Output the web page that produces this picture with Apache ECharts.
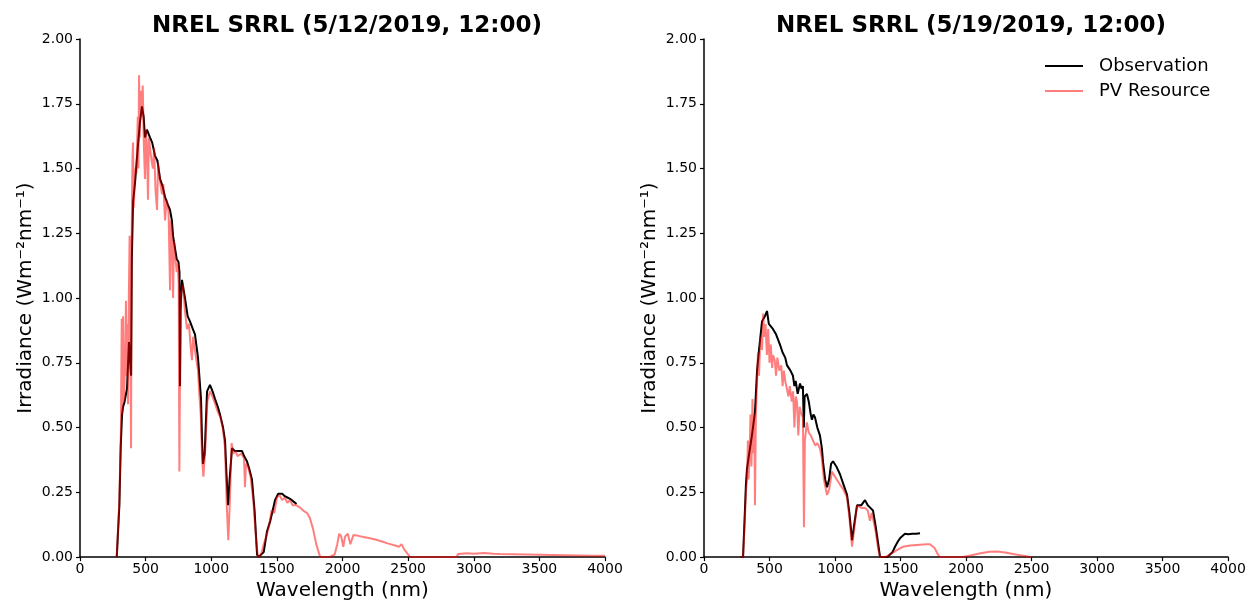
<!DOCTYPE html>
<html>
<head>
<meta charset="utf-8">
<script src="https://cdn.jsdelivr.net/npm/echarts@6/dist/echarts.min.js"></script>
<style>html,body{margin:0;padding:0;background:#fff}#c{width:1255px;height:606px}</style>
</head>
<body>
<div id="c"></div>
<script>
// ---- Data (wavelength in nm, irradiance in W m^-2 nm^-1) ----
const titles = ['NREL SRRL (5/12/2019, 12:00)', 'NREL SRRL (5/19/2019, 12:00)'];
const seriesNames = ['Observation', 'PV Resource'];
const xTicks = [0, 500, 1000, 1500, 2000, 2500, 3000, 3500, 4000];
const yTicks = [0, 0.25, 0.5, 0.75, 1.0, 1.25, 1.5, 1.75, 2.0];

// 5/12/2019 Observation
const obsWl12 = [280,290,300,310,320,328,340,358,373,389,395,404,420,440,457,472,485,495,510,533,550,571,590,610,630,648,670,686,700,709,720,737,750,758,762,766,777,800,820,838,860,876,899,912,922,930,937,950,968,990,1010,1029,1050,1067,1090,1105,1115,1128,1140,1158,1180,1200,1234,1250,1272,1290,1310,1330,1349,1360,1400,1425,1450,1486,1510,1524,1540,1560,1580,1600,1625,1650];
const obsVal12 = [0,0,0.2,0.42,0.55,0.58,0.6,0.65,0.83,0.7,1.15,1.37,1.45,1.58,1.68,1.74,1.7,1.62,1.65,1.62,1.6,1.55,1.53,1.46,1.43,1.39,1.36,1.34,1.3,1.24,1.24,1.15,1.14,1.1,0.66,0.95,1.07,1.0,0.93,0.91,0.88,0.86,0.77,0.68,0.61,0.45,0.36,0.4,0.64,0.665,0.64,0.61,0.58,0.55,0.5,0.45,0.33,0.2,0.3,0.42,0.41,0.41,0.41,0.39,0.37,0.34,0.3,0.18,0.01,0,0.02,0.1,0.14,0.22,0.245,0.25,0.245,0.235,0.23,0.225,0.215,0.205];

// 5/12/2019 PV Resource
const pvWl12 = [280,300,312,318,322,328,334,344,350,356,362,366,372,378,384,389,394,400,404,410,420,430,440,445,450,455,462,470,478,486,495,502,510,518,525,540,555,565,575,587,595,610,625,635,648,660,675,686,692,700,709,716,728,737,745,752,757,762,770,785,800,815,830,845,853,862,875,890,899,910,920,930,940,955,970,990,1010,1030,1050,1070,1090,1105,1118,1130,1142,1155,1170,1185,1200,1230,1250,1257,1265,1280,1300,1320,1340,1355,1380,1400,1420,1440,1460,1480,1500,1520,1540,1560,1580,1600,1620,1650,1680,1700,1730,1752,1775,1800,1830,1900,1940,1960,1975,1990,2006,2020,2040,2060,2083,2120,2160,2200,2250,2300,2350,2400,2430,2450,2470,2500,2514,2870,2880,2950,3000,3080,3150,3200,3300,3400,3500,3600,3700,3800,3900,4000];
const pvVal12 = [0,0.22,0.5,0.92,0.55,0.93,0.6,0.75,0.99,0.7,0.9,0.59,1.0,1.24,0.85,0.42,1.25,1.55,1.6,1.35,1.5,1.48,1.7,1.5,1.86,1.62,1.8,1.7,1.82,1.6,1.46,1.65,1.58,1.38,1.62,1.55,1.5,1.58,1.42,1.34,1.52,1.45,1.4,1.44,1.3,1.38,1.33,1.03,1.3,1.25,1.0,1.22,1.15,1.1,1.13,1.05,0.33,0.7,1.02,1.05,0.95,0.88,0.9,0.8,0.76,0.85,0.8,0.75,0.72,0.62,0.55,0.38,0.31,0.42,0.6,0.64,0.62,0.59,0.56,0.54,0.49,0.42,0.2,0.065,0.22,0.44,0.4,0.41,0.39,0.4,0.38,0.27,0.36,0.35,0.31,0.22,0.08,0,0.01,0.05,0.08,0.12,0.18,0.17,0.23,0.24,0.22,0.23,0.21,0.22,0.2,0.2,0.19,0.18,0.17,0.15,0.11,0.05,0,0,0.01,0.05,0.09,0.08,0.04,0.08,0.09,0.05,0.085,0.082,0.078,0.074,0.068,0.06,0.052,0.045,0.04,0.05,0.03,0.01,0,0,0.012,0.015,0.013,0.016,0.013,0.012,0.011,0.01,0.009,0.008,0.007,0.006,0.005,0.005];

// 5/19/2019 Observation
const obsWl19 = [280,298,310,320,328,345,366,389,405,420,443,465,481,495,510,527,550,580,600,620,634,660,679,690,700,715,733,745,755,762,768,786,800,815,824,835,847,865,885,900,908,925,939,955,970,985,1010,1038,1065,1092,1110,1130,1145,1168,1200,1229,1250,1270,1290,1310,1330,1344,1400,1420,1440,1458,1480,1500,1534,1560,1590,1620,1649];
const obsVal19 = [0,0,0.15,0.28,0.34,0.4,0.47,0.56,0.72,0.8,0.91,0.93,0.95,0.9,0.9,0.88,0.86,0.82,0.79,0.77,0.74,0.72,0.7,0.66,0.68,0.63,0.67,0.65,0.66,0.5,0.62,0.63,0.6,0.55,0.53,0.55,0.54,0.5,0.47,0.42,0.37,0.3,0.27,0.3,0.36,0.37,0.35,0.32,0.28,0.24,0.17,0.065,0.12,0.2,0.2,0.22,0.2,0.19,0.18,0.12,0.05,0,0,0.01,0.02,0.04,0.06,0.075,0.09,0.088,0.09,0.09,0.092];

// 5/19/2019 PV Resource
const pvWl19 = [280,298,310,320,328,335,340,348,355,362,370,378,384,389,396,405,412,420,430,443,451,460,470,480,490,500,510,520,527,540,550,560,575,590,600,610,620,634,645,655,670,680,690,700,710,720,730,745,755,763,770,785,800,815,832,850,865,885,900,915,939,955,977,1000,1038,1065,1092,1110,1130,1145,1168,1200,1229,1250,1267,1280,1290,1310,1330,1344,1382,1420,1450,1481,1520,1573,1650,1700,1725,1760,1786,1800,1980,2050,2120,2180,2237,2300,2380,2450,2489,2500];
const pvVal19 = [0,0,0.12,0.25,0.3,0.45,0.3,0.4,0.55,0.35,0.61,0.4,0.55,0.2,0.55,0.68,0.79,0.7,0.85,0.8,0.94,0.85,0.9,0.78,0.88,0.75,0.82,0.73,0.78,0.76,0.7,0.77,0.72,0.74,0.66,0.72,0.68,0.68,0.62,0.66,0.6,0.64,0.5,0.62,0.6,0.47,0.58,0.55,0.54,0.115,0.45,0.52,0.48,0.47,0.45,0.43,0.44,0.42,0.38,0.3,0.24,0.26,0.33,0.31,0.28,0.26,0.23,0.15,0.04,0.1,0.2,0.19,0.19,0.18,0.14,0.17,0.15,0.1,0.03,0,0,0.01,0.02,0.03,0.04,0.045,0.048,0.05,0.05,0.035,0.01,0,0,0.008,0.016,0.021,0.022,0.018,0.01,0.004,0,0];

// ---- Chart ----
const zip = (xs, ys) => xs.map((x, i) => [x, ys[i]]);
const FONT = 'DejaVu Sans';
const grids = [
  {left: 80, right: 650, top: 39, bottom: 46},
  {left: 704, right: 27, top: 39, bottom: 46}
];
function xAxis(i) {
  return {
    type: 'value', gridIndex: i, min: xTicks[0], max: xTicks[xTicks.length-1], interval: xTicks[1]-xTicks[0],
    name: 'Wavelength (nm)', nameLocation: 'middle', nameGap: 21,
    nameTextStyle: {fontFamily: FONT, fontSize: 20, color: '#000'},
    axisLine: {show: true, onZero: false, lineStyle: {color: '#000', width: 1.5}},
    axisTick: {show: true, inside: false, length: 4, lineStyle: {color: '#000', width: 1.2}},
    axisLabel: {fontFamily: FONT, fontSize: 14, color: '#000', margin: 5, formatter: v => String(v), showMinLabel: true, showMaxLabel: true},
    splitLine: {show: false}
  };
}
function yAxis(i) {
  return {
    type: 'value', gridIndex: i, min: yTicks[0], max: yTicks[yTicks.length-1], interval: yTicks[1]-yTicks[0],
    name: 'Irradiance (Wm\u207B\u00B2nm\u207B\u00B9)', nameLocation: 'middle', nameGap: 44,
    nameTextStyle: {fontFamily: FONT, fontSize: 20, color: '#000'},
    axisLine: {show: true, lineStyle: {color: '#000', width: 1.5}},
    axisTick: {show: true, inside: false, length: 4, lineStyle: {color: '#000', width: 1.2}},
    axisLabel: {fontFamily: FONT, fontSize: 14, color: '#000', margin: 7, formatter: v => v.toFixed(2), showMinLabel: true, showMaxLabel: true},
    splitLine: {show: false}
  };
}
function line(name, data, idx, color) {
  return {
    name: name, type: 'line', xAxisIndex: idx, yAxisIndex: idx, data: data,
    showSymbol: false, symbol: 'none', sampling: null, smooth: false,
    lineStyle: {color: color, width: 2}, itemStyle: {color: color},
    emphasis: {disabled: true}
  };
}
const BLACK = '#000000', RED = 'rgba(255,0,0,0.5)';
const chart = echarts.init(document.getElementById('c'), null, {renderer: 'canvas'});
chart.setOption({
  animation: false,
  backgroundColor: '#fff',
  title: [
    {text: titles[0], left: 342, top: 10, textAlign: 'center', textStyle: {fontFamily: FONT, fontSize: 23, fontWeight: 'bold', color: '#000'}},
    {text: titles[1], left: 966, top: 10, textAlign: 'center', textStyle: {fontFamily: FONT, fontSize: 23, fontWeight: 'bold', color: '#000'}}
  ],
  legend: {
    orient: 'vertical', left: 1040, top: 52,
    itemWidth: 38, itemHeight: 2, itemGap: 7,
    data: [
      {name: seriesNames[0], icon: 'rect', itemStyle: {color: BLACK}},
      {name: seriesNames[1], icon: 'rect', itemStyle: {color: RED}}
    ],
    textStyle: {fontFamily: FONT, fontSize: 18, color: '#000', padding: [0, 0, 0, 11]}
  },
  grid: grids,
  xAxis: [xAxis(0), xAxis(1)],
  yAxis: [yAxis(0), yAxis(1)],
  series: [
    line(seriesNames[0], zip(obsWl12, obsVal12), 0, BLACK),
    line(seriesNames[1], zip(pvWl12, pvVal12), 0, RED),
    line(seriesNames[0], zip(obsWl19, obsVal19), 1, BLACK),
    line(seriesNames[1], zip(pvWl19, pvVal19), 1, RED)
  ]
});
</script>
</body>
</html>
